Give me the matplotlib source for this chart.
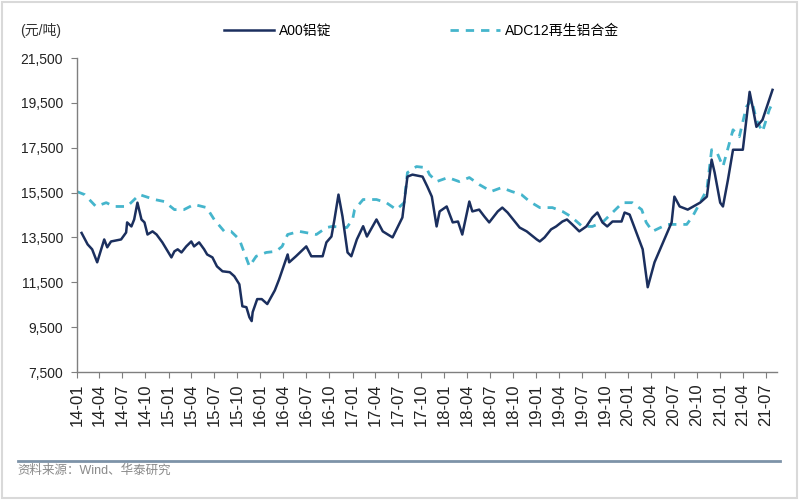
import matplotlib
matplotlib.use("Agg")
import matplotlib.pyplot as plt
import matplotlib.dates as mdates
import matplotlib.ticker as mticker
import pandas as pd
from matplotlib.lines import Line2D
from matplotlib.patches import Rectangle

plt.rcParams['font.family'] = ['Liberation Sans', 'Noto Sans CJK SC', 'DejaVu Sans']

# ---- data ----
a00_dates = ['2014-01-20', '2014-02-13', '2014-03-03', '2014-03-23', '2014-04-20', '2014-05-02',
             '2014-05-17', '2014-06-26', '2014-07-16', '2014-07-20', '2014-08-06', '2014-08-17',
             '2014-08-30', '2014-09-15', '2014-09-27', '2014-10-09', '2014-10-29', '2014-11-14',
             '2014-12-07', '2015-01-05', '2015-01-12', '2015-01-24', '2015-02-06', '2015-02-21',
             '2015-03-12', '2015-04-01', '2015-04-12', '2015-05-02', '2015-05-22', '2015-06-03',
             '2015-06-24', '2015-07-12', '2015-08-03', '2015-09-01', '2015-09-19', '2015-10-09',
             '2015-10-21', '2015-11-06', '2015-11-18', '2015-11-27', '2015-12-01', '2015-12-19',
             '2016-01-06', '2016-01-28', '2016-02-27', '2016-03-15',
             '2016-04-18', '2016-04-24', '2016-05-21', '2016-07-01', '2016-07-21', '2016-09-04',
             '2016-09-19', '2016-10-09', '2016-10-21', '2016-11-06', '2016-11-22', '2016-12-12',
             '2016-12-27', '2017-01-18', '2017-02-12', '2017-02-27', '2017-04-06', '2017-05-01',
             '2017-06-09', '2017-07-18', '2017-08-07', '2017-08-27', '2017-10-06', '2017-10-25',
             '2017-11-12', '2017-12-01', '2017-12-13', '2018-01-10', '2018-02-03', '2018-02-24',
             '2018-03-13', '2018-04-10', '2018-04-22', '2018-05-19', '2018-06-09', '2018-06-28',
             '2018-08-01', '2018-08-19', '2018-09-09', '2018-10-27', '2018-11-24', '2019-01-03',
             '2019-01-15', '2019-02-03', '2019-03-01', '2019-03-21', '2019-04-15', '2019-05-03',
             '2019-05-24', '2019-06-21', '2019-07-19', '2019-08-12', '2019-09-01', '2019-09-21',
             '2019-10-10', '2019-10-31', '2019-12-06', '2019-12-18', '2020-01-07', '2020-02-03',
             '2020-02-28', '2020-03-19', '2020-04-15',
             '2020-05-12', '2020-06-22', '2020-07-03', '2020-07-24', '2020-08-25', '2020-10-13',
             '2020-11-09', '2020-11-28', '2020-12-10', '2021-01-01', '2021-01-12', '2021-02-01',
             '2021-02-21', '2021-04-01', '2021-04-28', '2021-05-10', '2021-05-25', '2021-06-18',
             '2021-07-28']
a00_values = [13700, 13190, 12970, 12390, 13410, 13060,
              13320, 13410, 13720, 14170, 13990, 14300,
              15050, 14300, 14170, 13630, 13770, 13630,
              13280, 12740, 12610, 12880, 12970, 12830,
              13100, 13320, 13100, 13280, 12970, 12740,
              12610, 12210, 11990, 11950, 11770, 11410,
              10430, 10390, 9940, 9770, 10170, 10750,
              10750, 10530, 11140, 11630,
              12740, 12390, 12660, 13100, 12660, 12660,
              13280, 13540, 14300, 15410, 14430, 12830,
              12660, 13410, 14000, 13540, 14300, 13770,
              13500, 14390, 16210, 16300, 16210, 15770,
              15320, 13990, 14660, 14880, 14170, 14210,
              13630, 15100, 14660, 14740, 14430, 14170,
              14660, 14830, 14610, 13940, 13770, 13410,
              13320, 13500, 13860, 13990, 14210, 14300,
              14080, 13770, 13990, 14390, 14610, 14170,
              13990, 14210, 14210, 14610, 14520, 13720,
              12970, 11280, 12390,
              13100, 14170, 15320, 14880, 14740, 15050,
              15320, 16970, 16390, 15050, 14880, 16080,
              17410, 17410, 19990, 19320, 18430, 18740,
              20080]

adc12_dates = ['2014-01-02', '2014-02-01', '2014-03-18', '2014-04-28', '2014-05-29', '2014-07-20',
               '2014-09-07', '2014-11-06', '2014-12-15', '2015-01-24', '2015-03-03', '2015-04-12',
               '2015-06-01', '2015-07-01', '2015-08-10', '2015-09-06', '2015-10-09', '2015-11-18',
               '2015-12-15', '2016-01-24', '2016-03-03', '2016-03-27', '2016-04-18', '2016-06-03',
               '2016-08-10', '2016-09-19', '2016-10-12', '2016-12-09', '2017-01-01', '2017-01-09',
               '2017-02-12', '2017-04-06', '2017-05-15', '2017-06-24', '2017-07-25', '2017-08-07',
               '2017-09-12', '2017-10-21', '2017-11-03', '2017-12-01', '2018-01-15', '2018-03-01',
               '2018-04-10', '2018-05-19', '2018-07-06', '2018-08-16', '2018-09-25', '2018-11-03',
               '2018-12-06', '2019-01-15', '2019-03-06', '2019-04-15', '2019-05-19', '2019-07-03',
               '2019-08-12', '2019-09-21', '2019-10-31', '2019-12-10', '2020-01-18', '2020-02-24',
               '2020-03-13', '2020-04-07', '2020-06-03', '2020-08-21', '2020-09-13', '2020-10-13',
               '2020-11-09', '2020-11-28', '2020-12-18', '2021-01-12', '2021-02-21', '2021-03-18',
               '2021-04-15', '2021-05-06', '2021-05-25', '2021-06-18', '2021-07-15', '2021-07-28']
adc12_values = [15540, 15410, 14880, 15050, 14880, 14880,
                15410, 15190, 15100, 14740, 14740, 14970,
                14830, 14300, 13770, 13770, 13410, 12210,
                12660, 12830, 12880, 13100, 13630, 13770,
                13630, 13940, 13990, 13940, 14300, 14740,
                15190, 15190, 15050, 14740, 15050, 16390,
                16660, 16610, 16300, 15990, 16170, 15990,
                16170, 15860, 15550, 15720, 15550, 15410,
                15100, 14830, 14830, 14660, 14430, 13990,
                13990, 14170, 14610, 15050, 15050, 14740,
                14170, 13770, 14080, 14080, 14430, 15050,
                15630, 17410, 17320, 16660, 18300, 17990,
                19320, 19630, 18740, 18210, 19190, 19500]

series_names = ['A00铝锭', 'ADC12再生铝合金']
y_ticks = [7500, 9500, 11500, 13500, 15500, 17500, 19500, 21500]
unit_label = '(元/吨)'
source_label = '资料来源：Wind、华泰研究'

# ---- figure ----
fig = plt.figure(figsize=(8, 5), dpi=100)
ax = fig.add_axes([0.096, 0.256, 0.875, 0.628])

c_a00 = '#1b2f5e'
c_adc = '#45b5cc'

ax.plot(pd.to_datetime(a00_dates), a00_values, color=c_a00, lw=1.8,
        label=series_names[0], zorder=3)
ax.plot(pd.to_datetime(adc12_dates), adc12_values, color=c_adc, lw=2.0,
        ls=(0, (3, 2.5)), label=series_names[1], zorder=2)

ax.set_ylim(y_ticks[0], y_ticks[-1])
ax.set_yticks(y_ticks)
ax.yaxis.set_major_formatter(mticker.FuncFormatter(lambda v, p: f'{int(v):,}'))
ax.set_xlim(pd.Timestamp('2014-01-01'), pd.Timestamp('2021-08-14'))
ax.xaxis.set_major_locator(mdates.MonthLocator(bymonth=[1, 4, 7, 10]))
ax.xaxis.set_major_formatter(mdates.DateFormatter('%y-%m'))

for s in ['top', 'right']:
    ax.spines[s].set_visible(False)
for s in ['left', 'bottom']:
    ax.spines[s].set_color('#7f7f7f')
    ax.spines[s].set_linewidth(1.0)

ax.tick_params(axis='y', length=4, color='#7f7f7f', labelsize=10, labelcolor='#222222', pad=6)
ax.tick_params(axis='x', length=4, color='#7f7f7f', labelsize=12, labelcolor='#222222',
               rotation=90, pad=4)

fig.legend(loc='center', bbox_to_anchor=(0.527, 0.938), ncol=2, frameon=False,
           fontsize=10, handlelength=3.6, columnspacing=8.5, handletextpad=0.4)

fig.text(0.025, 0.94, unit_label, fontsize=10, color='#333333', va='center', ha='left')

# bottom rule and source note
fig.add_artist(Line2D([0.022, 0.975], [0.078, 0.078], transform=fig.transFigure,
                      color='#7d93a8', lw=2))
fig.text(0.022, 0.058, source_label, fontsize=9, color='#8a8a8a', va='center', ha='left')

# light frame around the picture
fig.add_artist(Rectangle((0.002, 0.004), 0.994, 0.992, transform=fig.transFigure,
                         fill=False, edgecolor='#d9d9d9', lw=1.5))

fig.savefig('out.png', dpi=100)
